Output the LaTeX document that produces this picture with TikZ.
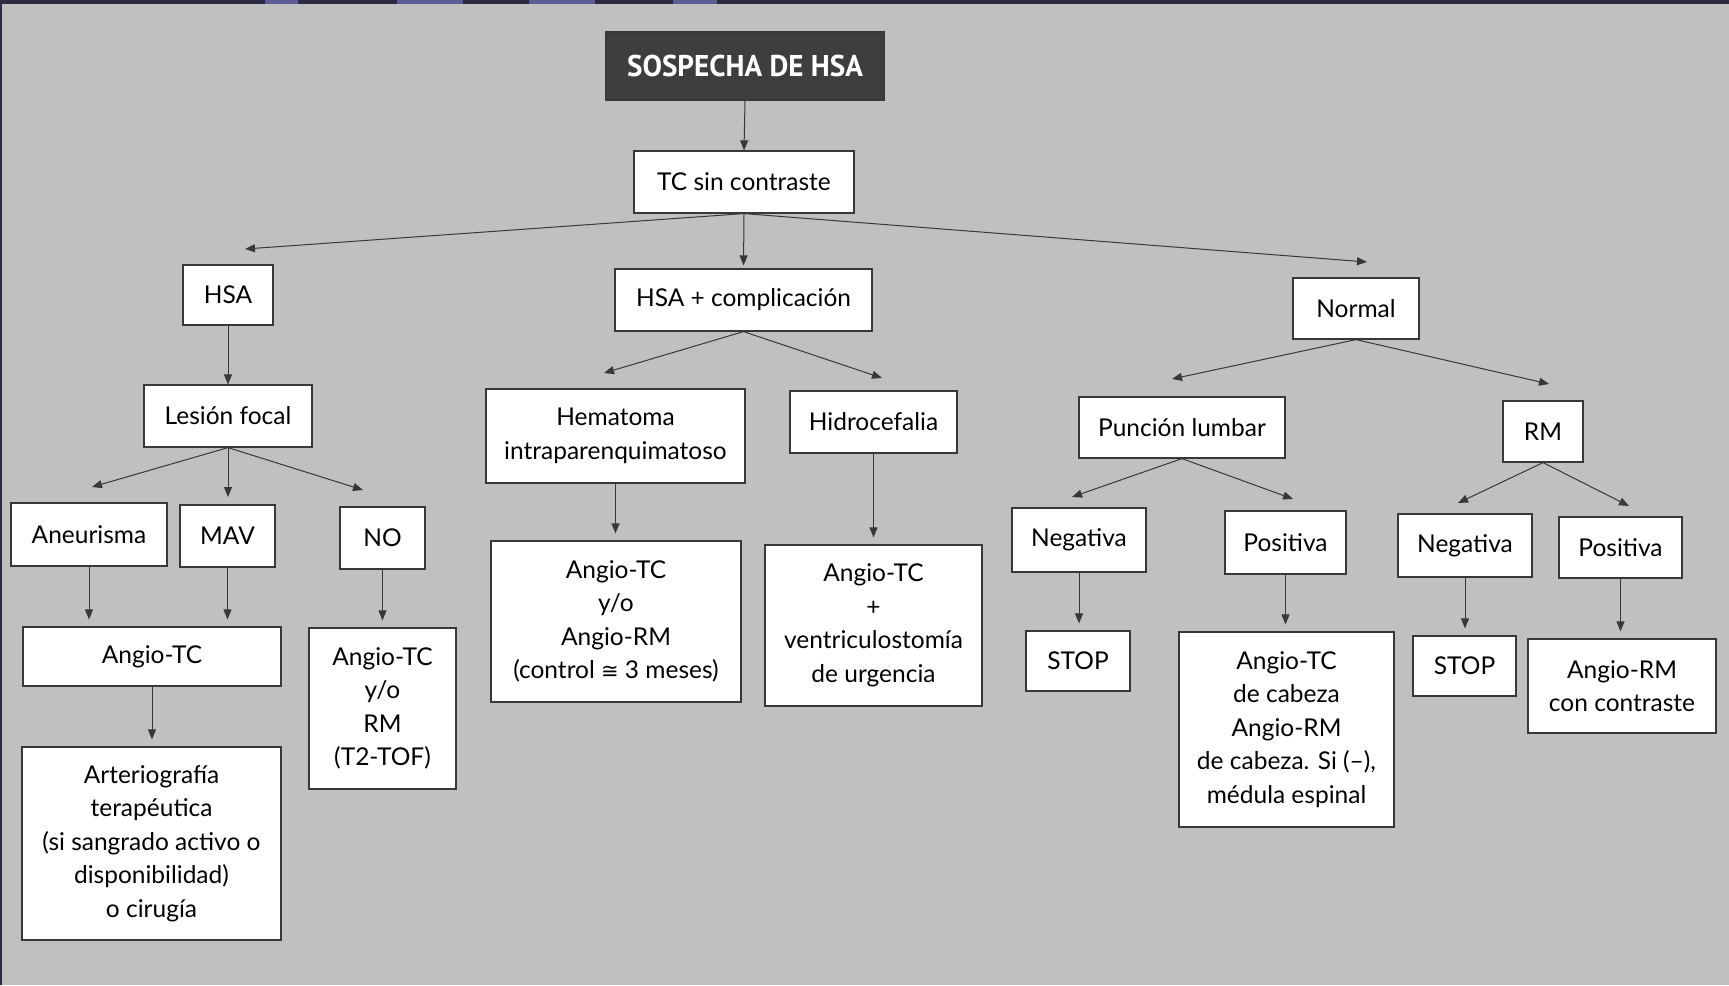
\documentclass[tikz,border=0pt]{standalone}
\usepackage{fontspec}
\setmainfont{Lato}
\newfontfamily\symf{DejaVu Sans}
\newfontfamily\headf{PT Sans}
\usetikzlibrary{arrows.meta}
\definecolor{bg}{HTML}{C0C0C0}
\definecolor{band}{HTML}{2C2B46}
\definecolor{blob}{HTML}{5E5C94}
\definecolor{hdr}{HTML}{3E3E3E}
\definecolor{linec}{HTML}{383838}
\begin{document}
\begin{tikzpicture}[x=1pt,y=-1pt,
  box/.style={draw=linec, line width=1.2pt, fill=white, inner sep=0pt, align=center,
    font=\fontsize{24.5}{33.5}\selectfont},
  sz/.style 2 args={minimum width=#1pt, minimum height=#2pt},
  arr/.style={draw=linec, line width=1pt, -{Triangle[length=10pt,width=8pt]}},
  vdown/.style={arr, shorten >=7pt}]
% background
\fill[bg] (0,0) rectangle (1729,985);
\useasboundingbox (0,0) rectangle (1729,985);
\fill[band] (0,0) rectangle (1729,4);
\fill[band] (0,0) rectangle (2,985);
\foreach \a/\b in {265/298, 397/463, 529/595, 673/717}
  \fill[blob] (\a,0) rectangle (\b,4);

% nodes
\node[box, sz={278}{68}, fill=hdr, text=white, font=\headf\bfseries\fontsize{30}{32}\selectfont] (sospecha) at (745,66) {\scalebox{0.97}[1]{SOSPECHA DE HSA}};
\node[box, sz={220}{62}] (tc) at (744,182) {TC sin contraste};
\node[box, sz={90}{60}] (hsa) at (228,295) {HSA};
\node[box, sz={257}{62}] (comp) at (743.5,300) {HSA + complicación};
\node[box, sz={126}{61}] (normal) at (1356,308.5) {Normal};

\node[box, sz={168}{62}] (lesion) at (228,416) {Lesión focal};
\node[box, sz={156}{63}] (aneur) at (89,534.5) {Aneurisma};
\node[box, sz={95}{62}] (mav) at (227.5,536) {MAV};
\node[box, sz={85}{62}] (no) at (382.5,538) {NO};
\node[box, sz={258}{59}] (angiotc) at (152,656.5) {Angio-TC};
\node[box, sz={147}{161}] (angiorm) at (382.5,708.5) {Angio-TC\\y/o\\RM\\(T2-TOF)};
\node[box, sz={259}{193}] (arterio) at (151.5,843.5) {Arteriografía\\terapéutica\\(si sangrado activo o\\disponibilidad)\\o cirugía};

\node[box, sz={259}{94}] (hemat) at (615.5,436) {Hematoma\\intraparenquimatoso};
\node[box, sz={167}{62}] (hidro) at (873.5,422) {Hidrocefalia};
\node[box, sz={250}{161}] (hematres) at (616,621.5) {Angio-TC\\y/o\\Angio-RM\\(control {\symf\fontsize{21}{33.5}\selectfont ≅} 3 meses)};
\node[box, sz={217}{161}] (hidrores) at (873.5,625.5) {Angio-TC\\+\\ventriculostomía\\de urgencia};

\node[box, sz={206}{61}] (puncion) at (1182,427.5) {Punción lumbar};
\node[box, sz={80}{61}] (rm) at (1543,431.5) {RM};
\node[box, sz={134}{64}] (negpl) at (1079,540) {Negativa};
\node[box, sz={121}{63}] (pospl) at (1285.5,542.5) {Positiva};
\node[box, sz={104}{60}] (stopa) at (1078,661) {STOP};
\node[box, sz={215}{195}] (plres) at (1286.5,729.5) {Angio-TC\\de cabeza\\Angio-RM\\de cabeza. Si (–),\\médula espinal};
\node[box, sz={134}{63}] (negrm) at (1465,545.5) {Negativa};
\node[box, sz={123}{61}] (posrm) at (1620.5,547.5) {Positiva};
\node[box, sz={103}{60}] (stopb) at (1464.5,666) {STOP};
\node[box, sz={188}{94}] (rmres) at (1622,686) {Angio-RM\\con contraste};

% free ends
\coordinate (eHSA) at (245,249);
\coordinate (eNormal) at (1367,262);
\coordinate (eAne) at (92,487);
\coordinate (eMav) at (228,497);
\coordinate (eNo) at (363,490);
\coordinate (eHem) at (604,373);
\coordinate (eHid) at (882,378);
\coordinate (ePL) at (1172,379);
\coordinate (eRM) at (1549,384);
\coordinate (ePLn) at (1072,497);
\coordinate (ePLp) at (1293,499);
\coordinate (eRMn) at (1458,503);
\coordinate (eRMp) at (1629,506);

% connectors
\draw[arr] (sospecha.south) -- (tc.north);
\draw[arr] (tc.south) -- (eHSA);
\draw[arr, shorten >=3pt] (tc.south) -- (comp.north);
\draw[arr] (tc.south) -- (eNormal);
\draw[arr] (hsa.south) -- (lesion.north);
\draw[arr] (lesion.south) -- (eAne);
\draw[arr] (lesion.south) -- (eMav);
\draw[arr] (lesion.south) -- (eNo);
\draw[vdown] (aneur.south) -- (aneur.south |- angiotc.north);
\draw[vdown] (mav.south) -- (mav.south |- angiotc.north);
\draw[vdown] (no.south) -- (no.south |- angiorm.north);
\draw[vdown] (angiotc.south) -- (angiotc.south |- arterio.north);
\draw[arr] (comp.south) -- (eHem);
\draw[arr] (comp.south) -- (eHid);
\draw[vdown] (hemat.south) -- (hemat.south |- hematres.north);
\draw[vdown] (hidro.south) -- (hidro.south |- hidrores.north);
\draw[arr] (normal.south) -- (ePL);
\draw[arr] (normal.south) -- (eRM);
\draw[arr] (puncion.south) -- (ePLn);
\draw[arr] (puncion.south) -- (ePLp);
\draw[vdown] (negpl.south) -- (negpl.south |- stopa.north);
\draw[vdown] (pospl.south) -- (pospl.south |- plres.north);
\draw[arr] (rm.south) -- (eRMn);
\draw[arr] (rm.south) -- (eRMp);
\draw[vdown] (negrm.south) -- (negrm.south |- stopb.north);
\draw[vdown] (posrm.south) -- (posrm.south |- rmres.north);
\end{tikzpicture}
\end{document}
